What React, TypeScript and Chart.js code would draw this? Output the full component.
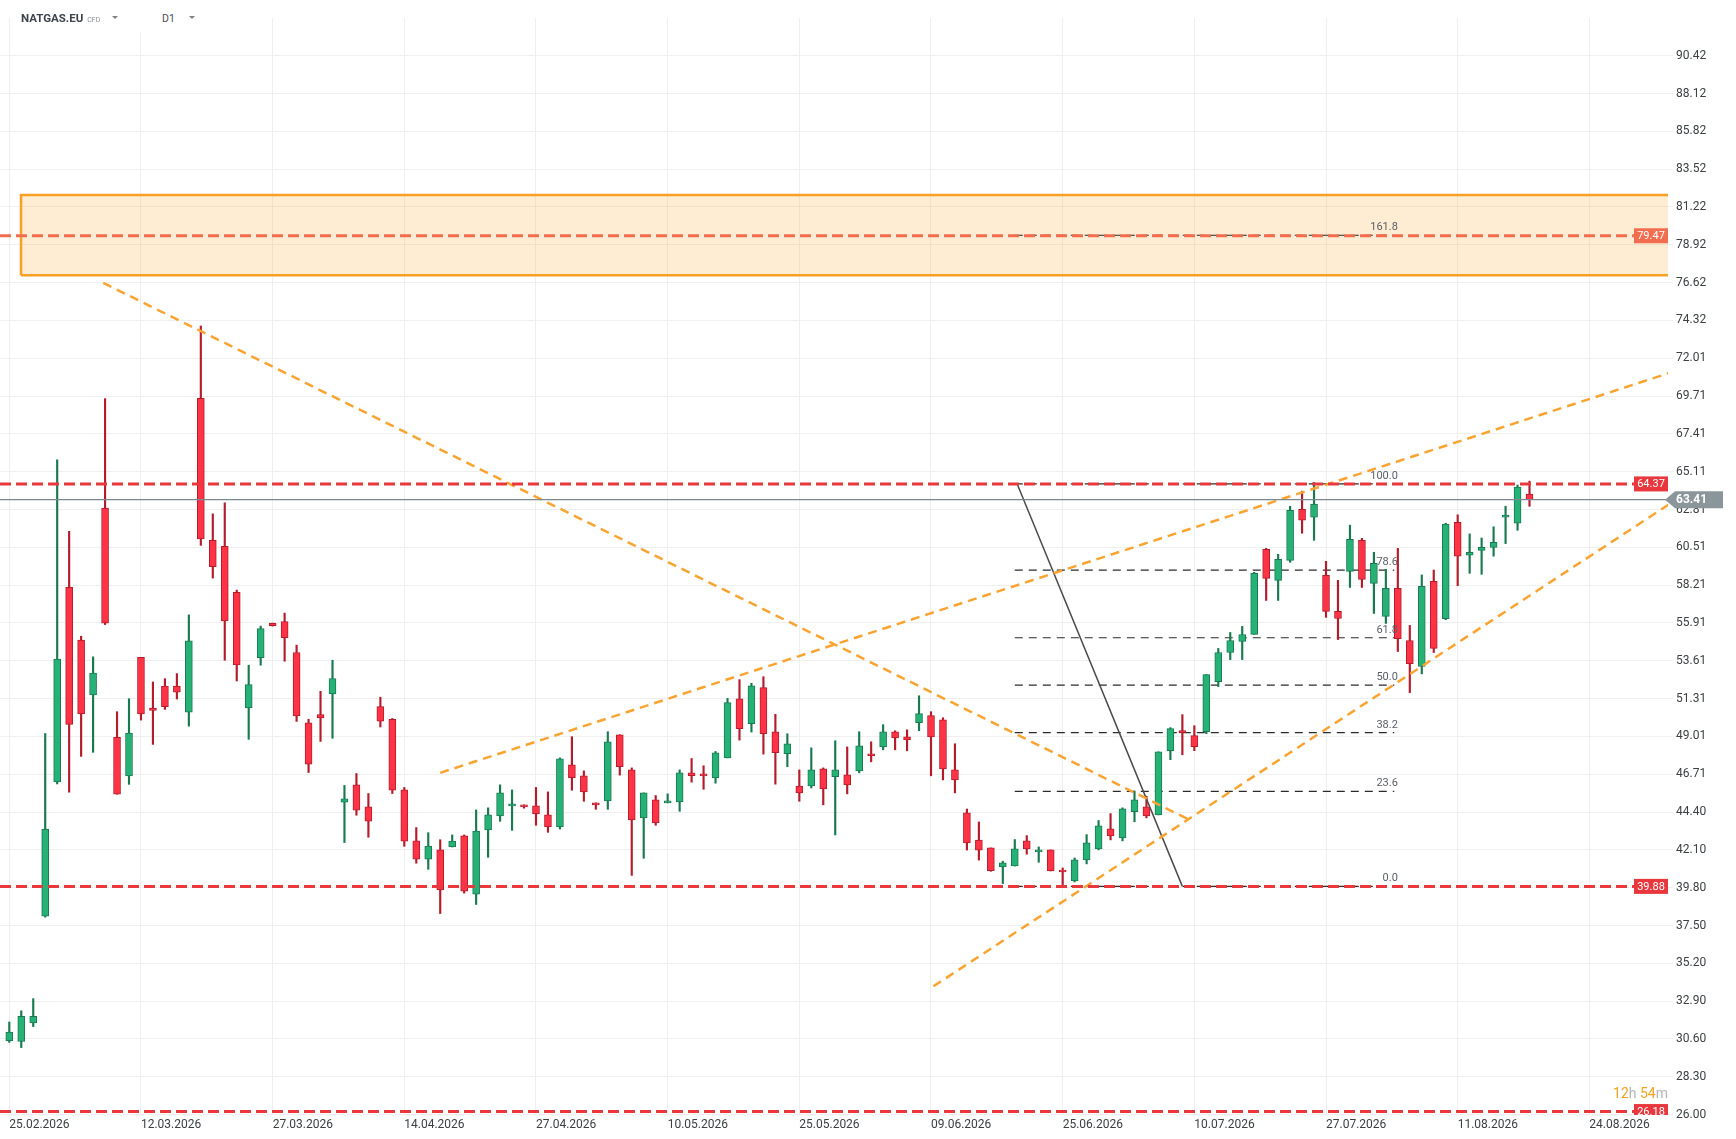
import React, { useEffect, useRef } from "react";
import { Chart, registerables } from "chart.js";

Chart.register(...registerables);

// ---------- data ----------
const openP = [
  30.5, 30.44, 31.57, 38.07, 46.23, 58.08, 54.87, 51.53, 62.9, 48.95,
  46.6, 53.82, 50.73, 52.07, 52.07, 50.48, 69.58, 60.94, 60.57, 57.77,
  50.74, 53.79, 55.88, 56.0, 54.11, 49.84, 50.33, 51.59, 45.01, 46.06,
  44.72, 50.82, 50.05, 45.76, 42.65, 41.53, 42.1, 42.28, 42.95, 39.41,
  43.31, 44.17, 44.78, 44.84, 44.78, 44.23, 43.5, 47.28, 46.61, 44.96,
  45.08, 49.11, 46.97, 44.05, 45.14, 44.96, 45.02, 46.79, 46.73, 46.48,
  47.7, 51.3, 49.78, 51.97, 49.29, 47.95, 45.99, 45.99, 47.03, 46.55,
  46.67, 46.91, 47.95, 48.37, 49.29, 48.98, 49.84, 50.27, 50.02, 46.97,
  44.35, 42.7, 42.22, 41.06, 41.12, 42.65, 41.98, 42.1, 40.88, 40.21,
  41.49, 42.16, 43.38, 42.83, 44.42, 44.72, 44.23, 48.14, 49.36, 49.05,
  49.29, 52.34, 54.11, 54.78, 55.21, 60.39, 58.5, 59.72, 62.83, 62.34,
  58.81, 56.61, 59.05, 60.94, 58.32, 56.31, 58.01, 54.84, 53.26, 58.44,
  56.17, 62.04, 60.03, 60.33, 60.51, 62.34, 61.98, 63.75,
];
const highP = [
  31.63, 32.31, 33.05, 49.18, 65.84, 61.48, 55.1, 53.85, 69.56, 50.51,
  51.3, 53.82, 52.32, 52.52, 52.83, 56.4, 73.98, 62.55, 63.22, 57.91,
  53.34, 55.72, 55.9, 56.51, 54.56, 50.05, 51.75, 53.64, 46.02, 46.75,
  45.53, 51.39, 50.1, 45.9, 43.46, 43.15, 42.72, 43.01, 43.01, 44.53,
  44.66, 46.06, 45.75, 44.84, 45.9, 45.63, 47.7, 48.99, 46.91, 44.96,
  49.29, 49.11, 47.09, 45.57, 45.41, 45.51, 46.97, 47.66, 47.22, 48.09,
  51.32, 52.46, 52.24, 52.64, 50.35, 49.17, 46.97, 48.31, 47.09, 48.74,
  48.37, 49.29, 48.68, 49.72, 49.35, 49.41, 51.48, 50.51, 50.14, 48.56,
  44.59, 43.8, 42.22, 41.41, 42.73, 42.97, 42.28, 42.1, 41.0, 41.61,
  43.03, 43.89, 44.31, 44.66, 45.68, 45.37, 48.07, 49.54, 50.33, 49.66,
  52.77, 54.36, 55.33, 55.7, 58.99, 60.45, 60.09, 63.01, 63.93, 64.46,
  59.66, 58.5, 61.86, 61.06, 60.21, 59.17, 60.45, 55.76, 58.83, 59.13,
  61.98, 62.49, 61.33, 61.08, 61.76, 63.01, 64.3, 64.54,
];
const lowP = [
  30.39, 30.07, 31.35, 38.01, 46.12, 45.61, 47.79, 48.04, 55.81, 45.49,
  46.09, 50.0, 48.52, 50.65, 51.28, 49.63, 60.63, 58.64, 53.64, 52.38,
  48.83, 53.34, 55.72, 53.58, 49.92, 46.81, 48.7, 48.89, 42.55, 44.21,
  42.87, 49.58, 45.53, 42.32, 41.29, 40.92, 38.23, 42.28, 39.47, 38.78,
  41.65, 43.84, 43.29, 44.64, 43.6, 43.17, 43.37, 45.73, 45.06, 44.57,
  44.57, 46.65, 40.55, 41.59, 43.6, 44.96, 44.45, 46.22, 45.79, 46.16,
  47.7, 48.78, 49.27, 47.93, 46.1, 47.16, 45.06, 45.87, 44.84, 43.01,
  45.51, 46.79, 47.46, 48.19, 48.19, 48.13, 49.35, 46.61, 46.36, 45.57,
  42.09, 41.48, 40.8, 40.05, 41.12, 41.84, 41.35, 40.82, 39.88, 40.15,
  41.25, 42.1, 42.71, 42.65, 43.81, 44.05, 44.23, 47.59, 47.89, 48.14,
  49.17, 52.04, 53.68, 53.68, 55.21, 57.28, 57.28, 59.6, 61.37, 60.94,
  56.25, 54.9, 58.07, 58.07, 56.49, 55.88, 54.17, 51.67, 52.81, 54.11,
  56.11, 58.18, 58.93, 58.87, 59.97, 60.74, 61.55, 63.01,
];
const closeP = [
  31.01, 31.97, 31.97, 43.37, 53.71, 49.74, 50.37, 52.86, 55.9, 45.49,
  49.21, 50.37, 50.59, 50.82, 51.7, 54.82, 61.03, 59.33, 56.04, 53.36,
  52.16, 55.57, 55.74, 55.01, 50.25, 47.32, 50.13, 52.53, 45.21, 44.52,
  43.85, 49.94, 45.74, 42.63, 41.53, 42.34, 39.66, 42.64, 39.59, 43.25,
  44.23, 45.57, 44.9, 44.72, 44.29, 43.5, 47.64, 46.49, 45.63, 44.84,
  48.68, 47.16, 43.92, 45.57, 43.74, 45.08, 46.79, 46.61, 46.61, 48.01,
  51.06, 49.47, 52.09, 49.17, 48.01, 48.56, 45.57, 46.97, 45.81, 46.97,
  46.06, 48.44, 47.83, 49.29, 48.92, 48.8, 50.39, 48.98, 47.03, 46.36,
  42.52, 42.09, 40.84, 41.31, 42.16, 42.16, 42.1, 40.82, 40.76, 41.49,
  42.53, 43.56, 42.95, 44.6, 45.15, 44.17, 48.07, 49.48, 49.23, 48.38,
  52.77, 54.11, 54.84, 55.21, 58.93, 58.62, 59.78, 62.77, 62.16, 63.14,
  56.61, 56.18, 61.0, 58.56, 59.54, 58.01, 54.96, 53.44, 58.14, 54.36,
  61.92, 59.97, 60.21, 60.51, 60.82, 62.47, 64.17, 63.41,
];

const dateTickIdx = [0, 11, 22, 33, 44, 55, 66, 77, 88, 99, 110, 121, 132];
const dateLabels = [
  "25.02.2026", "12.03.2026", "27.03.2026", "14.04.2026", "27.04.2026",
  "10.05.2026", "25.05.2026", "09.06.2026", "25.06.2026", "10.07.2026",
  "27.07.2026", "11.08.2026", "24.08.2026",
];
const yTickLabels = [
  "26.00", "28.30", "30.60", "32.90", "35.20", "37.50", "39.80", "42.10",
  "44.40", "46.71", "49.01", "51.31", "53.61", "55.91", "58.21", "60.51",
  "62.81", "65.11", "67.41", "69.71", "72.01", "74.32", "76.62", "78.92",
  "81.22", "83.52", "85.82", "88.12", "90.42",
];

const levelValues = [79.47, 64.37, 39.88, 26.18];
const levelColors = ["#f06d4f", "#e8383d", "#e8383d", "#e8383d"];
const lastPrice = 63.41;

const zoneTop = 81.95;
const zoneBottom = 77.07;
const zoneStartIdx = 0.98;

const trendDownX = [7.85, 98.4];
const trendDownY = [76.6, 44.0];
const trendUpperX = [36.0, 138.6];
const trendUpperY = [46.79, 71.1];
const trendLowerX = [77.2, 138.6];
const trendLowerY = [33.8, 63.1];

const fibLabels = ["0.0", "23.6", "38.2", "50.0", "61.8", "78.6", "100.0", "161.8"];
const fibPrices = [39.88, 45.66, 49.24, 52.13, 55.01, 59.13, 64.37, 79.5];
const fibStartIdx = 84.0;
const fibEndIdx = 115.7;
const fibLabelIdx = 116.0;
const fibDiagX = [84.2, 98.0];
const fibDiagY = [64.37, 39.88];

const X_MIN = -0.777;
const X_MAX = 138.57;
const Y_MIN = 25.97;
const Y_MAX = 92.72;

const UP_FILL = "#26b277";
const UP_LINE = "#197a50";
const DN_FILL = "#ff3346";
const DN_LINE = "#b41c2c";

const overlayPlugin = {
  id: "overlayPlugin",
  afterDatasetsDraw(chart: any) {
    const { ctx, chartArea, scales } = chart;
    const x = scales.x;
    const y = scales.y;
    ctx.save();
    ctx.font = "11px Roboto";
    ctx.fillStyle = "#5a5f66";
    ctx.textAlign = "right";
    ctx.textBaseline = "alphabetic";
    fibLabels.forEach((l, i) => {
      ctx.fillText(l, x.getPixelForValue(fibLabelIdx), y.getPixelForValue(fibPrices[i]) - 5);
    });
    ctx.beginPath();
    ctx.rect(chartArea.left, chartArea.top, chartArea.right - chartArea.left, chartArea.bottom - chartArea.top);
    ctx.clip();
    levelValues.forEach((v, i) => {
      const py = y.getPixelForValue(v);
      ctx.fillStyle = levelColors[i];
      ctx.fillRect(chartArea.right - 34, py - 7.5, 34, 15);
      ctx.fillStyle = "#ffffff";
      ctx.font = "11px Roboto";
      ctx.textAlign = "center";
      ctx.textBaseline = "middle";
      ctx.fillText(v.toFixed(2), chartArea.right - 17, py + 0.5);
    });
    ctx.restore();
  },
  afterDraw(chart: any) {
    const { ctx, chartArea, scales } = chart;
    const py = scales.y.getPixelForValue(lastPrice);
    const left = chartArea.right - 3;
    ctx.save();
    ctx.fillStyle = "#8b969b";
    ctx.beginPath();
    ctx.moveTo(left, py);
    ctx.lineTo(left + 10, py - 8.5);
    ctx.lineTo(left + 58, py - 8.5);
    ctx.lineTo(left + 58, py + 8.5);
    ctx.lineTo(left + 10, py + 8.5);
    ctx.closePath();
    ctx.fill();
    ctx.fillStyle = "#ffffff";
    ctx.font = "bold 12px Roboto";
    ctx.textAlign = "left";
    ctx.textBaseline = "middle";
    ctx.fillText(lastPrice.toFixed(2), left + 11, py + 0.5);
    ctx.restore();
  },
};

function hLine(v: number, color: string, width: number, dash: number[], order: number, x0 = X_MIN, x1 = X_MAX) {
  return {
    type: "line" as const,
    data: [{ x: x0, y: v }, { x: x1, y: v }],
    borderColor: color,
    borderWidth: width,
    borderDash: dash,
    pointRadius: 0,
    fill: false,
    order,
  };
}

function seg(xs: number[], ys: number[], color: string, width: number, dash: number[], order: number) {
  return {
    type: "line" as const,
    data: xs.map((xv, i) => ({ x: xv, y: ys[i] })),
    borderColor: color,
    borderWidth: width,
    borderDash: dash,
    pointRadius: 0,
    fill: false,
    order,
  };
}

export default function App() {
  const ref = useRef<HTMLCanvasElement>(null);

  useEffect(() => {
    const idx = openP.map((_, i) => i);
    const isUp = idx.map((i) => closeP[i] >= openP[i]);

    const datasets: any[] = [];

    // candle bodies
    datasets.push({
      type: "bar",
      data: idx.map((i) => ({ x: i, y: [openP[i], closeP[i]] })),
      backgroundColor: idx.map((i) => (isUp[i] ? UP_FILL : DN_FILL)),
      borderColor: idx.map((i) => (isUp[i] ? UP_LINE : DN_LINE)),
      borderWidth: 1,
      borderSkipped: false,
      barThickness: 7,
      grouped: false,
      order: 20,
    });
    // wicks
    datasets.push({
      type: "bar",
      data: idx.map((i) => ({ x: i, y: [lowP[i], highP[i]] })),
      backgroundColor: idx.map((i) => (isUp[i] ? UP_LINE : DN_LINE)),
      borderWidth: 0,
      barThickness: 1.5,
      grouped: false,
      order: 25,
    });

    // zone rectangle
    datasets.push({
      type: "line",
      data: [
        { x: zoneStartIdx, y: zoneBottom },
        { x: zoneStartIdx, y: zoneTop },
        { x: X_MAX + 0.3, y: zoneTop },
        { x: X_MAX + 0.3, y: zoneBottom },
        { x: zoneStartIdx, y: zoneBottom },
      ],
      borderColor: "#f8a024",
      backgroundColor: "rgba(248,160,36,0.2)",
      borderWidth: 2.5,
      pointRadius: 0,
      fill: "shape",
      tension: 0,
      order: 100,
    });

    // fib horizontal lines
    fibPrices.forEach((p) => {
      datasets.push(hLine(p, "#2b2b2b", 1.2, [8, 6], 40, fibStartIdx, fibEndIdx));
    });

    // horizontal levels
    levelValues.forEach((v, i) => {
      datasets.push(hLine(v, levelColors[i], 3, [11, 5], 5));
    });

    // current price line
    datasets.push(hLine(lastPrice, "#7d888e", 1.2, [], 6));

    // trend lines
    datasets.push(seg(trendDownX, trendDownY, "#f9a431", 2.5, [9, 6], 8));
    datasets.push(seg(trendUpperX, trendUpperY, "#f9a431", 2.5, [9, 6], 8));
    datasets.push(seg(trendLowerX, trendLowerY, "#f9a431", 2.5, [9, 6], 8));

    // fib diagonal
    datasets.push(seg(fibDiagX, fibDiagY, "#4a4a4a", 1.5, [], 9));

    const chart = new Chart(ref.current as HTMLCanvasElement, {
      type: "bar",
      data: { datasets },
      plugins: [overlayPlugin],
      options: {
        responsive: false,
        animation: false,
        events: [],
        layout: { padding: { top: 18, left: 0, right: 0, bottom: 0 }, autoPadding: false },
        plugins: { legend: { display: false }, tooltip: { enabled: false } },
        scales: {
          x: {
            type: "linear",
            min: X_MIN,
            max: X_MAX,
            offset: false,
            border: { display: false },
            grid: { color: "#efefef", lineWidth: 1, drawTicks: false, offset: false },
            afterBuildTicks: (axis: any) => {
              axis.ticks = dateTickIdx.map((v) => ({ value: v }));
            },
            afterFit: (scale: any) => {
              scale.height = 24;
            },
            ticks: {
              autoSkip: false,
              maxRotation: 0,
              minRotation: 0,
              align: "start",
              padding: 3,
              color: "#3c4043",
              font: { family: "Roboto", size: 12 },
              callback: (value: any) => {
                const k = dateTickIdx.indexOf(Number(value));
                return k >= 0 ? dateLabels[k] : "";
              },
            },
          },
          y: {
            type: "linear",
            position: "right",
            min: Y_MIN,
            max: Y_MAX,
            border: { display: false },
            grid: { color: "#efefef", lineWidth: 1, drawTicks: true, tickLength: 5 },
            afterBuildTicks: (axis: any) => {
              axis.ticks = yTickLabels.map((s) => ({ value: parseFloat(s) }));
            },
            afterFit: (scale: any) => {
              scale.width = 68;
            },
            ticks: {
              autoSkip: false,
              padding: 3,
              color: "#3c4043",
              font: { family: "Roboto", size: 12 },
              callback: (value: any) => Number(value).toFixed(2),
            },
          },
        },
      } as any,
    });
    return () => chart.destroy();
  }, []);

  return (
    <div
      style={{
        position: "absolute",
        left: 0,
        top: 0,
        width: 1736,
        height: 1139,
        background: "#ffffff",
        fontFamily: "Roboto, sans-serif",
        overflow: "hidden",
      }}
    >
      <canvas ref={ref} width={1736} height={1139} style={{ display: "block" }} />
      <div style={{ position: "absolute", left: 21, top: 11, fontSize: 11.5, fontWeight: 700, color: "#3d434b", whiteSpace: "nowrap" }}>
        NATGAS.EU
        <span style={{ fontSize: 7, fontWeight: 400, color: "#8a8f95", marginLeft: 4 }}>CFD</span>
      </div>
      <div style={{ position: "absolute", left: 112, top: 16, width: 0, height: 0, borderLeft: "3.5px solid transparent", borderRight: "3.5px solid transparent", borderTop: "3.5px solid #7d8389" }} />
      <div style={{ position: "absolute", left: 134, top: 4, width: 72, height: 28, background: "#ffffff" }} />
      <div style={{ position: "absolute", left: 162, top: 12, fontSize: 10.5, color: "#4a4f55" }}>D1</div>
      <div style={{ position: "absolute", left: 189, top: 16, width: 0, height: 0, borderLeft: "3.5px solid transparent", borderRight: "3.5px solid transparent", borderTop: "3.5px solid #7d8389" }} />
      <div style={{ position: "absolute", right: 68, top: 1085, fontSize: 14, whiteSpace: "nowrap" }}>
        <span style={{ color: "#f5a21f" }}>12</span>
        <span style={{ color: "#b5b5b5" }}>h </span>
        <span style={{ color: "#f5a21f" }}>54</span>
        <span style={{ color: "#b5b5b5" }}>m</span>
      </div>
    </div>
  );
}
